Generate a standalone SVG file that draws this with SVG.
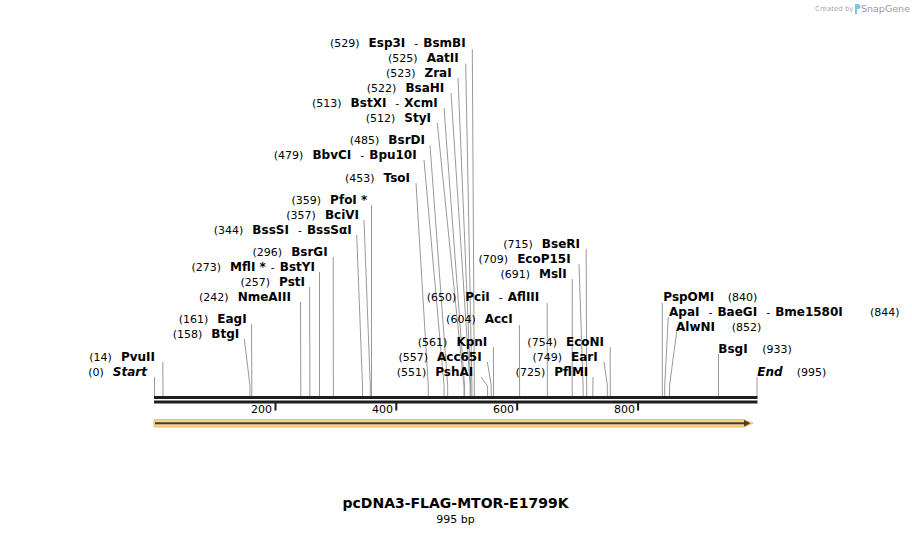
<svg xmlns="http://www.w3.org/2000/svg" width="912" height="535" viewBox="0 0 912 535">
<style>
text{font-family:"DejaVu Sans","Verdana",sans-serif;font-size:11px;fill:#000}
.b{font-weight:bold;font-size:12px}
.bi{font-weight:bold;font-style:italic;font-size:12px}
.ld{stroke:#999;stroke-width:1;fill:none}
.bb{fill:#1e1e1e}
.tk{fill:#1e1e1e}
.title{font-weight:bold;font-size:14px}
.wm{fill:#aaa;font-size:7px}
</style>
<rect width="912" height="535" fill="#fff"/>
<g id="watermark">
<text class="wm" x="815" y="10.5">Created by</text>
<path d="M855 4h3a2.5 2.5 0 0 1 0 5h-1v5h-2z" fill="#7fc3ea"/>
<text x="861" y="12" style="fill:#999;font-size:9.5px">SnapGene</text>
</g>
<g id="connectors">
<polyline class="ld" points="472.3,49 474.3,386 474.3,396"/>
<polyline class="ld" points="465.7,63.5 471.9,386 471.9,396"/>
<polyline class="ld" points="458,78 470.7,386 470.7,396"/>
<polyline class="ld" points="451,93 470.1,386 470.1,396"/>
<polyline class="ld" points="444,108 464.6,386 464.6,396"/>
<polyline class="ld" points="437.3,123 464,386 464,396"/>
<polyline class="ld" points="430,145 447.7,386 447.7,396"/>
<polyline class="ld" points="424,160 444.1,386 444.1,396"/>
<polyline class="ld" points="416,183 428.3,386 428.3,396"/>
<polyline class="ld" points="371.5,205 371.5,396"/>
<polyline class="ld" points="364,220 370.3,386 370.3,396"/>
<polyline class="ld" points="356.7,235 362.5,386 362.5,396"/>
<polyline class="ld" points="333.2,257 333.4,396"/>
<polyline class="ld" points="319.5,272 319.5,396"/>
<polyline class="ld" points="309.6,287 309.9,396"/>
<polyline class="ld" points="300.5,302 300.8,396"/>
<polyline class="ld" points="251.5,324 251.8,386 251.8,396"/>
<polyline class="ld" points="244.3,339 250,386 250,396"/>
<polyline class="ld" points="162.8,362 163,396"/>
<polyline class="ld" points="154.5,377 154.5,396"/>
<polyline class="ld" points="586.2,249 586.7,396"/>
<polyline class="ld" points="579,264 583.1,386 583.1,396"/>
<polyline class="ld" points="572.3,279 572.2,396"/>
<polyline class="ld" points="547.2,303 547.4,396"/>
<polyline class="ld" points="519.4,325 519.6,396"/>
<polyline class="ld" points="493.4,347 493.6,396"/>
<polyline class="ld" points="487.3,362 491.2,385 491.2,396"/>
<polyline class="ld" points="481,377 487.6,386 487.6,396"/>
<polyline class="ld" points="610.2,347 610.3,396"/>
<polyline class="ld" points="604,362 607.3,385 607.3,396"/>
<polyline class="ld" points="593,377 592.8,396"/>
<polyline class="ld" points="662.3,303 662.3,396"/>
<polyline class="ld" points="668.3,317 664.7,386 664.7,396"/>
<polyline class="ld" points="676.7,331.5 669.5,386 669.5,396"/>
<polyline class="ld" points="718.5,354 718.5,396"/>
<polyline class="ld" points="757,377 757,396"/>
</g>
<g id="labels-left">
<g id="n529"><text x="465.7" y="46.5" text-anchor="end">(529)<tspan class="b" dx="9">Esp3I</tspan><tspan dx="9">-</tspan><tspan class="b" dx="5">BsmBI</tspan></text></g>
<g id="n525"><text x="458.7" y="61.5" text-anchor="end">(525)<tspan class="b" dx="9">AatII</tspan></text></g>
<g id="n523"><text x="451.7" y="76.5" text-anchor="end">(523)<tspan class="b" dx="9">ZraI</tspan></text></g>
<g id="n522"><text x="444.3" y="91.5" text-anchor="end">(522)<tspan class="b" dx="9">BsaHI</tspan></text></g>
<g id="n513"><text x="437.7" y="106.5" text-anchor="end">(513)<tspan class="b" dx="9">BstXI</tspan><tspan dx="9">-</tspan><tspan class="b" dx="5">XcmI</tspan></text></g>
<g id="n512"><text x="431" y="121.5" text-anchor="end">(512)<tspan class="b" dx="9">StyI</tspan></text></g>
<g id="n485"><text x="425" y="143.5" text-anchor="end">(485)<tspan class="b" dx="9">BsrDI</tspan></text></g>
<g id="n479"><text x="416.7" y="158.5" text-anchor="end">(479)<tspan class="b" dx="9">BbvCI</tspan><tspan dx="9">-</tspan><tspan class="b" dx="5">Bpu10I</tspan></text></g>
<g id="n453"><text x="410" y="181.5" text-anchor="end">(453)<tspan class="b" dx="9">TsoI</tspan></text></g>
<g id="n359"><text x="367.3" y="203.5" text-anchor="end">(359)<tspan class="b" dx="9">PfoI *</tspan></text></g>
<g id="n357"><text x="359" y="218.5" text-anchor="end">(357)<tspan class="b" dx="9">BciVI</tspan></text></g>
<g id="n344"><text x="351.7" y="233.5" text-anchor="end">(344)<tspan class="b" dx="9">BssSI</tspan><tspan dx="9">-</tspan><tspan class="b" dx="5">BssSαI</tspan></text></g>
<g id="n296"><text x="327.7" y="255.5" text-anchor="end">(296)<tspan class="b" dx="9">BsrGI</tspan></text></g>
<g id="n273"><text x="315" y="270.5" text-anchor="end">(273)<tspan class="b" dx="9">MflI *</tspan><tspan dx="5">-</tspan><tspan class="b" dx="5">BstYI</tspan></text></g>
<g id="n257"><text x="305" y="285.5" text-anchor="end">(257)<tspan class="b" dx="9">PstI</tspan></text></g>
<g id="n242"><text x="291" y="300.5" text-anchor="end">(242)<tspan class="b" dx="9">NmeAIII</tspan></text></g>
<g id="n161"><text x="246.7" y="322.5" text-anchor="end">(161)<tspan class="b" dx="9">EagI</tspan></text></g>
<g id="n158"><text x="239.3" y="337.5" text-anchor="end">(158)<tspan class="b" dx="9">BtgI</tspan></text></g>
<g id="n14"><text x="155" y="360.5" text-anchor="end">(14)<tspan class="b" dx="9">PvuII</tspan></text></g>
<g id="n0"><text x="147" y="375.5" text-anchor="end">(0)<tspan class="bi" dx="9">Start</tspan></text></g>
</g>
<g id="labels-mid">
<g id="n715"><text x="580" y="247.5" text-anchor="end">(715)<tspan class="b" dx="9">BseRI</tspan></text></g>
<g id="n709"><text x="570.7" y="262.5" text-anchor="end">(709)<tspan class="b" dx="9">EcoP15I</tspan></text></g>
<g id="n691"><text x="566.7" y="277.5" text-anchor="end">(691)<tspan class="b" dx="9">MslI</tspan></text></g>
<g id="n650"><text x="539.3" y="301" text-anchor="end">(650)<tspan class="b" dx="9">PciI</tspan><tspan dx="9">-</tspan><tspan class="b" dx="5">AflIII</tspan></text></g>
<g id="n604"><text x="512.7" y="323" text-anchor="end">(604)<tspan class="b" dx="9">AccI</tspan></text></g>
<g id="n561"><text x="487.3" y="345.5" text-anchor="end">(561)<tspan class="b" dx="9">KpnI</tspan></text></g>
<g id="n557"><text x="481.7" y="360.5" text-anchor="end">(557)<tspan class="b" dx="9">Acc65I</tspan></text></g>
<g id="n551"><text x="473.3" y="375.5" text-anchor="end">(551)<tspan class="b" dx="9">PshAI</tspan></text></g>
<g id="n754"><text x="604" y="345.5" text-anchor="end">(754)<tspan class="b" dx="9">EcoNI</tspan></text></g>
<g id="n749"><text x="597.7" y="360.5" text-anchor="end">(749)<tspan class="b" dx="9">EarI</tspan></text></g>
<g id="n725"><text x="588.3" y="375.5" text-anchor="end">(725)<tspan class="b" dx="9">PflMI</tspan></text></g>
</g>
<g id="labels-right">
<g id="n840"><text x="663.3" y="300.5"><tspan class="b">PspOMI</tspan><tspan x="727.7">(840)</tspan></text></g>
<g id="n844"><text x="669" y="315.5"><tspan class="b">ApaI</tspan><tspan dx="9">-</tspan><tspan class="b" dx="5">BaeGI</tspan><tspan dx="9">-</tspan><tspan class="b" dx="5">Bme1580I</tspan><tspan x="870">(844)</tspan></text></g>
<g id="n852"><text x="676" y="330.5"><tspan class="b">AlwNI</tspan><tspan x="731.7">(852)</tspan></text></g>
<g id="n933"><text x="718.3" y="352.5"><tspan class="b">BsgI</tspan><tspan x="762.3">(933)</tspan></text></g>
<g id="n995"><text x="757.3" y="375.5"><tspan class="bi">End</tspan><tspan x="796.7">(995)</tspan></text></g>
</g>
<g id="backbone">
<rect class="bb" x="154" y="396" width="603.5" height="3"/>
<rect class="bb" x="154" y="400.5" width="603.5" height="3"/>
<rect class="tk" x="274.5" y="403" width="2" height="7.5"/>
<rect class="tk" x="395.3" y="403" width="2" height="7.5"/>
<rect class="tk" x="516.2" y="403" width="2" height="7.5"/>
<rect class="tk" x="637.1" y="403" width="2" height="7.5"/>
<text x="272" y="413" text-anchor="end">200</text>
<text x="393" y="413" text-anchor="end">400</text>
<text x="514" y="413" text-anchor="end">600</text>
<text x="635" y="413" text-anchor="end">800</text>
</g>
<g id="feature">
<polygon points="154,419.5 744,419.5 753,423.2 744,427 154,427" fill="#fbd28c" stroke="#f6bd5c" stroke-width="1"/>
<line x1="155" y1="423.2" x2="745" y2="423.2" stroke="#4a3a28" stroke-width="2"/>
<polygon points="744,420 750.5,423.2 744,426.4" fill="#4a3a28"/>
</g>
<g id="title">
<text class="title" x="455.5" y="508" text-anchor="middle">pcDNA3-FLAG-MTOR-E1799K</text>
<text x="455.5" y="523" text-anchor="middle">995 bp</text>
</g>
</svg>
